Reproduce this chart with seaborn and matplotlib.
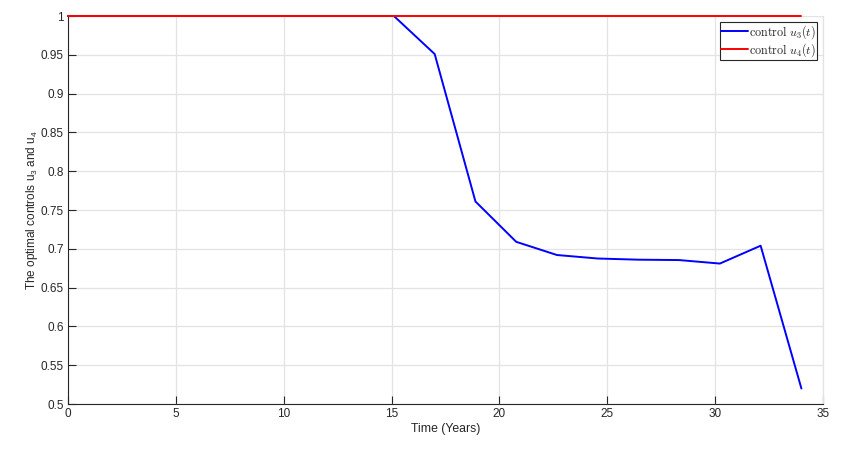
import pandas as pd
import seaborn as sns
import matplotlib.pyplot as plt

# time grid (years) and the two controls
time_years = [0, 1.89, 3.78, 5.67, 7.56, 9.44, 11.33, 13.22, 15.11, 17.0,
              18.89, 20.78, 22.67, 24.56, 26.44, 28.33, 30.22, 32.11, 34.0]
u3_values = [1.0, 1.0, 1.0, 1.0, 1.0, 1.0, 1.0, 1.0, 1.0, 0.951,
             0.761, 0.709, 0.692, 0.6875, 0.686, 0.6855, 0.681, 0.704, 0.520]
u4_values = [1.0, 1.0, 1.0, 1.0, 1.0, 1.0, 1.0, 1.0, 1.0, 1.0,
             1.0, 1.0, 1.0, 1.0, 1.0, 1.0, 1.0, 1.0, 1.0]

x_ticks = [0, 5, 10, 15, 20, 25, 30, 35]
y_ticks = [0.5, 0.55, 0.6, 0.65, 0.7, 0.75, 0.8, 0.85, 0.9, 0.95, 1]
y_tick_labels = ['0.5', '0.55', '0.6', '0.65', '0.7', '0.75', '0.8', '0.85', '0.9', '0.95', '1']

data = pd.DataFrame({'t': time_years, 'u3': u3_values, 'u4': u4_values})

sns.set_theme(style="whitegrid")
plt.rcParams['font.family'] = ['Liberation Sans', 'DejaVu Sans']
plt.rcParams['mathtext.fontset'] = 'cm'
# sans digits for the y label subscripts
plt.rcParams['mathtext.rm'] = 'Liberation Sans'
plt.rcParams['mathtext.it'] = 'Liberation Sans:italic'

text_col = '#262626'
fig = plt.figure(figsize=(8.57, 4.5), dpi=100)
ax = fig.add_axes([0.0793, 0.1022, 0.881, 0.8622])

sns.lineplot(x='t', y='u3', data=data, ax=ax, color=(0, 0, 1), lw=1.4,
             label=r'$\mathrm{control}\ u_3(t)$', clip_on=False, zorder=3)
sns.lineplot(x='t', y='u4', data=data, ax=ax, color=(1, 0, 0), lw=1.4,
             label=r'$\mathrm{control}\ u_4(t)$', clip_on=False, zorder=4)

ax.set_xlim(0, 35)
ax.set_ylim(0.5, 1)
ax.set_xticks(x_ticks)
ax.set_yticks(y_ticks)
ax.set_yticklabels(y_tick_labels)

# matlab-ish look
ax.grid(True, color='#e3e3e3', lw=0.9)
ax.spines['top'].set_visible(False)
ax.spines['right'].set_color('#e3e3e3')
ax.spines['right'].set_linewidth(0.9)
for side in ['left', 'bottom']:
    ax.spines[side].set_color('#262626')
    ax.spines[side].set_linewidth(0.8)
ax.tick_params(bottom=True, left=True, direction='in', length=6, width=0.8,
               color='#262626', labelsize=8.5, labelcolor=text_col, pad=3)

ax.set_xlabel('Time (Years)', fontsize=8.8, color=text_col, labelpad=2)
ax.set_ylabel(r'The optimal controls u$_3$ and u$_4$', fontsize=8.5,
              color=text_col, math_fontfamily='custom')
ax.yaxis.set_label_coords(-0.037, 0.5)

leg = ax.legend(loc='upper right', fontsize=8.7, frameon=True, fancybox=False,
                borderpad=0.1, handlelength=2.2, handletextpad=0.1,
                labelspacing=0.0, borderaxespad=0.5)
leg.get_frame().set_edgecolor('#262626')
leg.get_frame().set_linewidth(0.8)
leg.get_frame().set_alpha(1)

plt.savefig('out.png', dpi=100)
